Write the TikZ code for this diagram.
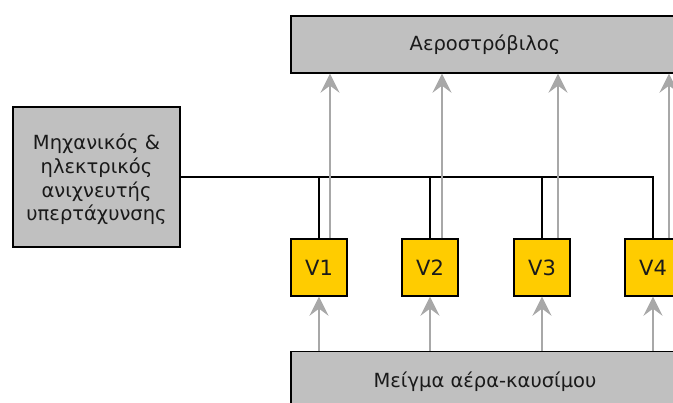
\documentclass[tikz,border=0pt]{standalone}
\usepackage{fontspec}
\setmainfont{DejaVu Sans}
\usetikzlibrary{arrows.meta}
\definecolor{boxgray}{HTML}{C0C0C0}
\definecolor{valveyellow}{HTML}{FFCC00}
\definecolor{flowgray}{HTML}{A8A8A8}
\definecolor{inkdark}{HTML}{1A1A1A}
\tikzset{
  graybox/.style={draw=black, line width=1.4pt, fill=boxgray, inner sep=0pt,
    text=inkdark, font=\fontsize{19.5}{24}\selectfont},
  valve/.style={draw=black, line width=1.4pt, fill=valveyellow, inner sep=0pt,
    minimum width=56pt, minimum height=57pt, text=inkdark,
    font=\fontsize{21}{24}\selectfont},
  flow/.style={draw=flowgray, line width=2pt,
    -{Stealth[length=19pt, width=19pt, inset=7pt, fill=flowgray]}},
  signal/.style={draw=black, line width=1.4pt},
}
\begin{document}
\begin{tikzpicture}[x=1pt, y=-1pt]
\useasboundingbox (0,0) rectangle (673,403);
\clip (0,0) rectangle (673,403);

% turbine on top, mixture supply at the bottom
\node[graybox, minimum width=388pt, minimum height=57pt] (turbine) at (485,44.5) {Αεροστρόβιλος};
\node[graybox, minimum width=388pt, minimum height=60pt] (mix) at (485,381.5) {Μείγμα αέρα-καυσίμου};

% overspeed detector
\node[graybox, minimum width=167pt, minimum height=140pt, align=center] (detector) at (96.5,177)
  {};
\node[font=\fontsize{19.5}{23.7}\selectfont, text=inkdark, align=center, inner sep=0pt] (detectortext)
  at (96.5,179.5) {Μηχανικός \&\\ηλεκτρικός\\ανιχνευτής\\υπερτάχυνσης};

% valves
\node[valve] (v1) at (319,267.5) {V1};
\node[valve] (v2) at (430,267.5) {V2};
\node[valve] (v3) at (542,267.5) {V3};
\node[valve] (v4) at (653,267.5) {V4};

% trip signal bus from the detector to each valve
\coordinate (bus) at (detector.east);
\draw[signal] (detector.east) -- (v4.north |- bus) -- (v4.north);
\draw[signal] (v1.north |- bus) -- (v1.north);
\draw[signal] (v2.north |- bus) -- (v2.north);
\draw[signal] (v3.north |- bus) -- (v3.north);

% mixture into the valves
\foreach \v in {v1,v2,v3,v4}
  \draw[flow] (\v.south |- mix.north) -- (\v.south);

% valves out to the turbine
\draw[flow] ([xshift=11pt]v1.north) -- ([xshift=11pt]v1.north |- turbine.south);
\draw[flow] ([xshift=12pt]v2.north) -- ([xshift=12pt]v2.north |- turbine.south);
\draw[flow] ([xshift=16pt]v3.north) -- ([xshift=16pt]v3.north |- turbine.south);
\draw[flow] ([xshift=16pt]v4.north) -- ([xshift=16pt]v4.north |- turbine.south);
\end{tikzpicture}
\end{document}
